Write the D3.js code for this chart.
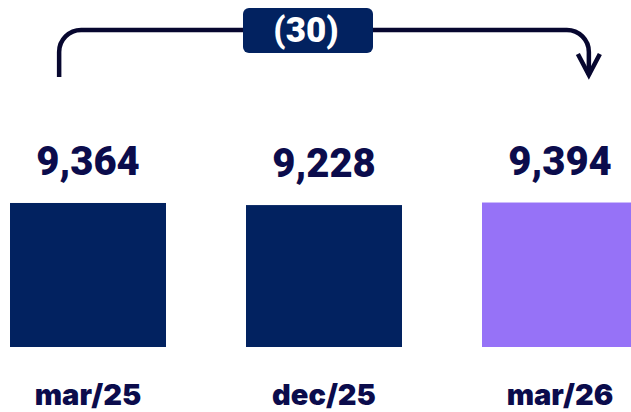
<!DOCTYPE html>
<meta charset="utf-8">
<style>
    body {
        margin: 0;
        padding: 0;
        background: #ffffff;
    }

    svg {
        display: block;
    }

    .value {
        font-family: Roboto, "Liberation Sans", sans-serif;
        font-weight: 900;
        font-size: 40px;
        fill: #0b0c4c;
    }

    .cat {
        font-family: Inter, "Noto Sans", sans-serif;
        font-weight: 900;
        font-size: 29px;
        fill: #0b0c4c;
    }

    .arrow {
        fill: none;
        stroke: #07072f;
        stroke-width: 4.5px;
    }
</style>
<svg width="631" height="412"></svg>
<script src="https://d3js.org/d3.v7.min.js"></script>
<script>
    var categories = ["mar/25", "dec/25", "mar/26"];
    var values = [9364, 9228, 9394];
    var barColors = ["#022260", "#022260", "#9672f7"];
    var deltaLabel = "(30)";

    var svg = d3.select("svg");

    var baseY = 347;

    var x = d3.scaleBand()
        .domain(categories)
        .range([10, 638])
        .paddingInner(0.339)
        .paddingOuter(0);

    var y = d3.scaleLinear()
        .domain([0, 10000])
        .range([baseY, baseY - 153.8]);

    var fmt = d3.format(",");

    // bars
    svg.append("g")
        .selectAll("rect")
        .data(values)
        .enter().append("rect")
        .attr("x", function(d, i) { return x(categories[i]); })
        .attr("y", function(d) { return y(d); })
        .attr("width", x.bandwidth())
        .attr("height", function(d) { return y(0) - y(d); })
        .attr("fill", function(d, i) { return barColors[i]; });

    // value labels
    svg.append("g")
        .selectAll("text")
        .data(values)
        .enter().append("text")
        .attr("class", "value")
        .attr("text-anchor", "middle")
        .attr("x", function(d, i) { return x(categories[i]) + x.bandwidth() / 2; })
        .attr("y", function(d) { return y(d) - 28; })
        .text(function(d) { return fmt(d); });

    // category labels
    svg.append("g")
        .selectAll("text")
        .data(categories)
        .enter().append("text")
        .attr("class", "cat")
        .attr("text-anchor", "middle")
        .attr("x", function(d) { return x(d) + x.bandwidth() / 2; })
        .attr("y", 405)
        .text(function(d) { return d; });

    // comparison arrow from first to last period
    var ax0 = x(categories[0]) + x.bandwidth() * 0.315,
        ax1 = x(categories[2]) + x.bandwidth() * 0.685,
        topY = 30,
        bottomY = 77,
        r = 22;

    var p = d3.path();
    p.moveTo(ax0, bottomY);
    p.lineTo(ax0, topY + r);
    p.arcTo(ax0, topY, ax0 + r, topY, r);
    p.lineTo(ax1 - r, topY);
    p.arcTo(ax1, topY, ax1, topY + r, r);
    p.lineTo(ax1, bottomY - 2);
    svg.append("path").attr("class", "arrow").attr("d", p.toString());

    svg.append("path")
        .attr("class", "arrow")
        .attr("d", "M" + (ax1 - 11) + "," + (bottomY - 23) + "L" + ax1 + "," + (bottomY - 2) + "L" + (ax1 + 11) + "," + (bottomY - 23));

    // delta badge
    var bx = 308;
    svg.append("rect")
        .attr("x", bx - 65)
        .attr("y", 8)
        .attr("width", 130)
        .attr("height", 45)
        .attr("rx", 6)
        .attr("fill", "#022260");

    svg.append("text")
        .attr("x", bx - 2)
        .attr("y", 30)
        .attr("dy", "0.35em")
        .attr("text-anchor", "middle")
        .style("font-family", "Roboto, sans-serif")
        .style("font-weight", 900)
        .style("font-size", "35px")
        .style("fill", "#ffffff")
        .text(deltaLabel);
</script>
